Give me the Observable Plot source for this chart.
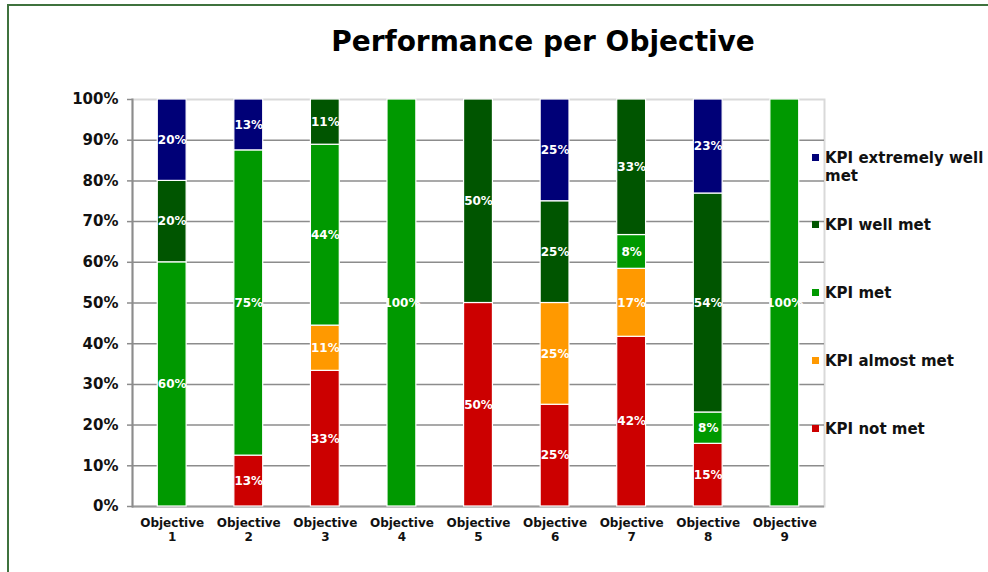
<!DOCTYPE html>
<html>
<head>
<meta charset="utf-8">
<script src="https://cdn.jsdelivr.net/npm/d3@7"></script>
<script src="https://cdn.jsdelivr.net/npm/@observablehq/plot@0.6"></script>
<style>
  html, body { margin: 0; padding: 0; background: #fff; }
  #wrap { position: relative; width: 988px; height: 572px; overflow: hidden; font-family: "DejaVu Sans", Verdana, sans-serif; }
  #border { position: absolute; left: 7px; top: 4px; width: 1000px; height: 600px; border-left: 2px solid #3f723d; border-top: 2px solid #3f723d; }
  #title { position: absolute; left: 331px; width: 424px; top: 28px; text-align: center; font-size: 28px; font-weight: bold; line-height: 1; color: #000; white-space: nowrap; }
  #chart { position: absolute; left: 0; top: 0; }
  .leg { position: absolute; left: 812px; font-size: 15px; font-weight: bold; color: #111; line-height: 18px; white-space: nowrap; }
  .leg .sw { position: absolute; left: 0; top: 5px; width: 7px; height: 7px; }
  .leg .lb { position: absolute; left: 13px; top: 0; }
</style>
</head>
<body>
<div id="wrap">
  <div id="border"></div>
  <div id="chart"></div>
  <div id="title">Performance per Objective</div>
</div>
<script>
const objectives = ["Objective 1","Objective 2","Objective 3","Objective 4","Objective 5","Objective 6","Objective 7","Objective 8","Objective 9"];
const categories = ["KPI not met","KPI almost met","KPI met","KPI well met","KPI extremely well met"];
const colors = ["#cc0000","#ff9900","#009900","#005500","#000077"];
const notMet           = [0, 12.5, 33.3, 0,   50, 25, 41.7, 15.4, 0];
const almostMet        = [0, 0,    11.1, 0,   0,  25, 16.7, 0,    0];
const met              = [60, 75,  44.4, 100, 0,  0,  8.3,  7.7,  100];
const wellMet          = [20, 0,   11.1, 0,   50, 25, 33.3, 53.8, 0];
const extremelyWellMet = [20, 12.5, 0,   0,   0,  25, 0,    23.1, 0];
const yTicks = [0, 0.1, 0.2, 0.3, 0.4, 0.5, 0.6, 0.7, 0.8, 0.9, 1];
const legendY = [429, 361, 293, 225, 158];

const series = [notMet, almostMet, met, wellMet, extremelyWellMet];
const table = [];
objectives.forEach((o, i) => {
  categories.forEach((c, j) => {
    const v = series[j][i];
    if (v > 0) table.push({objective: o, category: c, value: v});
  });
});

const chart = Plot.plot({
  width: 988,
  height: 572,
  marginLeft: 132,
  marginRight: 164,
  marginTop: 99,
  marginBottom: 66,
  style: {fontFamily: "'DejaVu Sans', Verdana, sans-serif", background: "transparent", overflow: "visible"},
  x: {domain: objectives, paddingInner: 0.623, paddingOuter: 0.33, round: false, label: null},
  y: {domain: [0, 1], label: null},
  color: {domain: categories, range: colors},
  marks: [
    Plot.frame({stroke: "#d9d9d9", strokeWidth: 2}),
    Plot.ruleY(yTicks.slice(1, -1), {stroke: "#8c8c8c", strokeWidth: 1.5}),
    Plot.ruleY([0], {stroke: "#9a9a9a", strokeWidth: 2}),
    Plot.frame({anchor: "left", stroke: "#8c8c8c", strokeWidth: 2}),
    Plot.barY(table, {x: "objective", y: "value", fill: "category", offset: "normalize", order: categories, stroke: "white", strokeWidth: 1.2}),
    Plot.text(table, Plot.stackY({x: "objective", y: "value", z: "category", offset: "normalize", order: categories,
      text: d => Math.round(d.value) + "%", fill: "white", fontWeight: "bold", fontSize: 12})),
    Plot.axisY({ticks: yTicks, tickFormat: d3.format(".0%"), tickSize: 5, tickPadding: 9, stroke: "#8c8c8c", strokeWidth: 1.5,
      fontSize: 15, fontWeight: "bold", fill: "#111", label: null}),
    Plot.axisX({tickSize: 0, tickPadding: 10, tickFormat: d => d.replace(" ", "\n"), lineHeight: 1.2, fontSize: 12, fontWeight: "bold", fill: "#111", label: null})
  ]
});
document.getElementById("chart").appendChild(chart);

const wrap = document.getElementById("wrap");
categories.forEach((c, j) => {
  const item = document.createElement("div");
  item.className = "leg";
  item.style.top = (legendY[j] - 9) + "px";
  const sw = document.createElement("div");
  sw.className = "sw";
  sw.style.background = colors[j];
  const lb = document.createElement("div");
  lb.className = "lb";
  if (c === "KPI extremely well met") lb.innerHTML = "KPI extremely well<br>met";
  else lb.textContent = c;
  item.appendChild(sw);
  item.appendChild(lb);
  wrap.appendChild(item);
});
</script>
</body>
</html>
